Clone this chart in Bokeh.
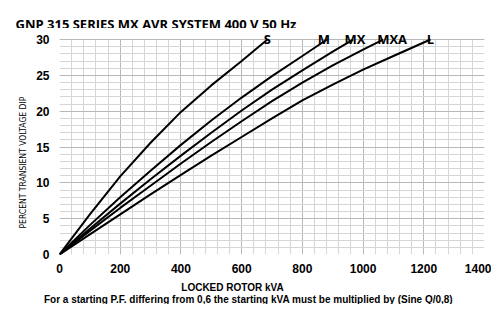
from bokeh.plotting import figure
from bokeh.layouts import column
from bokeh.models import Label, Title, SingleIntervalTicker, Range1d
from bokeh.embed import file_html
from bokeh.resources import INLINE

# ---- data ----
S_x = [0, 100, 200, 300, 400, 500, 600, 685]
S_y = [0, 5.6, 10.9, 15.6, 19.9, 23.6, 27.0, 30.0]

M_x = [0, 100, 200, 300, 400, 500, 600, 700, 800, 881]
M_y = [0, 4.1, 8.0, 11.7, 15.3, 18.7, 21.9, 24.9, 27.7, 30.0]

MX_x = [0, 100, 200, 300, 400, 500, 600, 700, 800, 900, 967]
MX_y = [0, 3.6, 7.1, 10.5, 13.8, 17.0, 20.1, 23.0, 25.7, 28.3, 30.0]

MXA_x = [0, 100, 200, 300, 400, 500, 600, 700, 800, 900, 1000, 1066]
MXA_y = [0, 3.3, 6.5, 9.6, 12.7, 15.7, 18.6, 21.4, 24.0, 26.4, 28.6, 30.0]

L_x = [0, 100, 200, 300, 400, 500, 600, 700, 800, 900, 1000, 1100, 1222]
L_y = [0, 2.8, 5.6, 8.4, 11.1, 13.8, 16.4, 19.0, 21.5, 23.7, 25.8, 27.7, 30.0]

series_names = ["S", "M", "MX", "MXA", "L"]
series_x = [S_x, M_x, MX_x, MXA_x, L_x]
series_y = [S_y, M_y, MX_y, MXA_y, L_y]

title_text = "GNP 315 SERIES MX AVR SYSTEM 400 V 50 Hz"
x_label = "LOCKED ROTOR kVA"
note_text = "For a starting P.F. differing from 0,6 the starting kVA must be multiplied by (Sine Q/0,8)"
y_label = "PERCENT TRANSIENT VOLTAGE DIP"

# ---- layout constants (pixels) ----
W = 481
TOP_H, MAIN_H, BOT_H = 28, 247, 29
label_dx = [0, -3, 2, 9, 0]   # small nudges of the curve names
Y_MAX = 30
Y_TOP = 31.54  # extra room above the chart for the curve names


def text_strip(height):
    f = figure(width=W, height=height, output_backend="svg", toolbar_location=None,
               x_range=Range1d(0, W), y_range=Range1d(0, height),
               x_axis_type=None, y_axis_type=None, frame_align=False,
               min_border_left=0, min_border_right=0, min_border_top=0, min_border_bottom=0)
    f.outline_line_color = None
    f.border_fill_color = "white"
    f.background_fill_color = "white"
    return f


# ---- title strip ----
p0 = text_strip(TOP_H)
p0.add_layout(Label(x=15, y=5, text=title_text, text_align="left", text_baseline="alphabetic",
                    text_font="Open Sans", text_font_size="13px", text_font_style="bold",
                    text_color="black"))

# ---- main chart ----
p = figure(width=W, height=MAIN_H, output_backend="svg", toolbar_location=None,
           x_range=Range1d(0, 1400), y_range=Range1d(0, Y_TOP), frame_align=False,
           min_border_left=0, min_border_right=7, min_border_top=0, min_border_bottom=0)
p.margin = (0, 0, 0, 10)
p.border_fill_color = "white"
p.background_fill_color = "white"
p.outline_line_color = None

p.xaxis.ticker = SingleIntervalTicker(interval=200, num_minor_ticks=5)
p.yaxis.ticker = SingleIntervalTicker(interval=5, num_minor_ticks=5)
p.yaxis.bounds = (0, Y_MAX)
for ax in (p.xaxis[0], p.yaxis[0]):
    ax.axis_line_color = None
    ax.major_tick_line_color = None
    ax.minor_tick_line_color = None
    ax.major_tick_out = 0
    ax.minor_tick_out = 0
    ax.major_label_text_font = "Liberation Sans"
    ax.major_label_text_font_size = "12px"
    ax.major_label_text_font_style = "bold"
    ax.major_label_text_color = "black"
p.xaxis.major_label_standoff = 9
p.yaxis.major_label_standoff = 10

ty = Title(text=y_label, align="left", offset=26, text_font="DejaVu Sans Condensed",
           text_font_size="8.5px", text_font_style="normal", text_color="black", standoff=11)
p.add_layout(ty, "left")

p.ygrid.bounds = (0, Y_MAX)
p.xgrid.cross_bounds = (0, Y_MAX)
for g in (p.xgrid[0], p.ygrid[0]):
    g.grid_line_color = "#b8b8b8"
    g.grid_line_width = 1
    g.minor_grid_line_color = "#d6d6d6"
    g.minor_grid_line_width = 1

for name, xs, ys, dx in zip(series_names, series_x, series_y, label_dx):
    p.line(xs, ys, line_color="black", line_width=2)
    p.add_layout(Label(x=xs[-1], y=ys[-1], text=name, text_align="center",
                       text_baseline="alphabetic", y_offset=1, x_offset=dx,
                       text_font="Open Sans", text_font_size="13px",
                       text_font_style="bold", text_color="black"))

# ---- bottom text strip ----
p2 = text_strip(BOT_H)
p2.add_layout(Label(x=232, y=17, text=x_label, text_align="center", text_baseline="middle",
                    text_font="Liberation Sans", text_font_size="10px", text_font_style="bold",
                    text_color="black"))
p2.add_layout(Label(x=248, y=5, text=note_text, text_align="center", text_baseline="middle",
                    text_font="Liberation Sans", text_font_size="10px", text_font_style="bold",
                    text_color="black"))

layout = column(p0, p, p2, spacing=0)

open("out.html", "w").write(file_html(layout, INLINE))
